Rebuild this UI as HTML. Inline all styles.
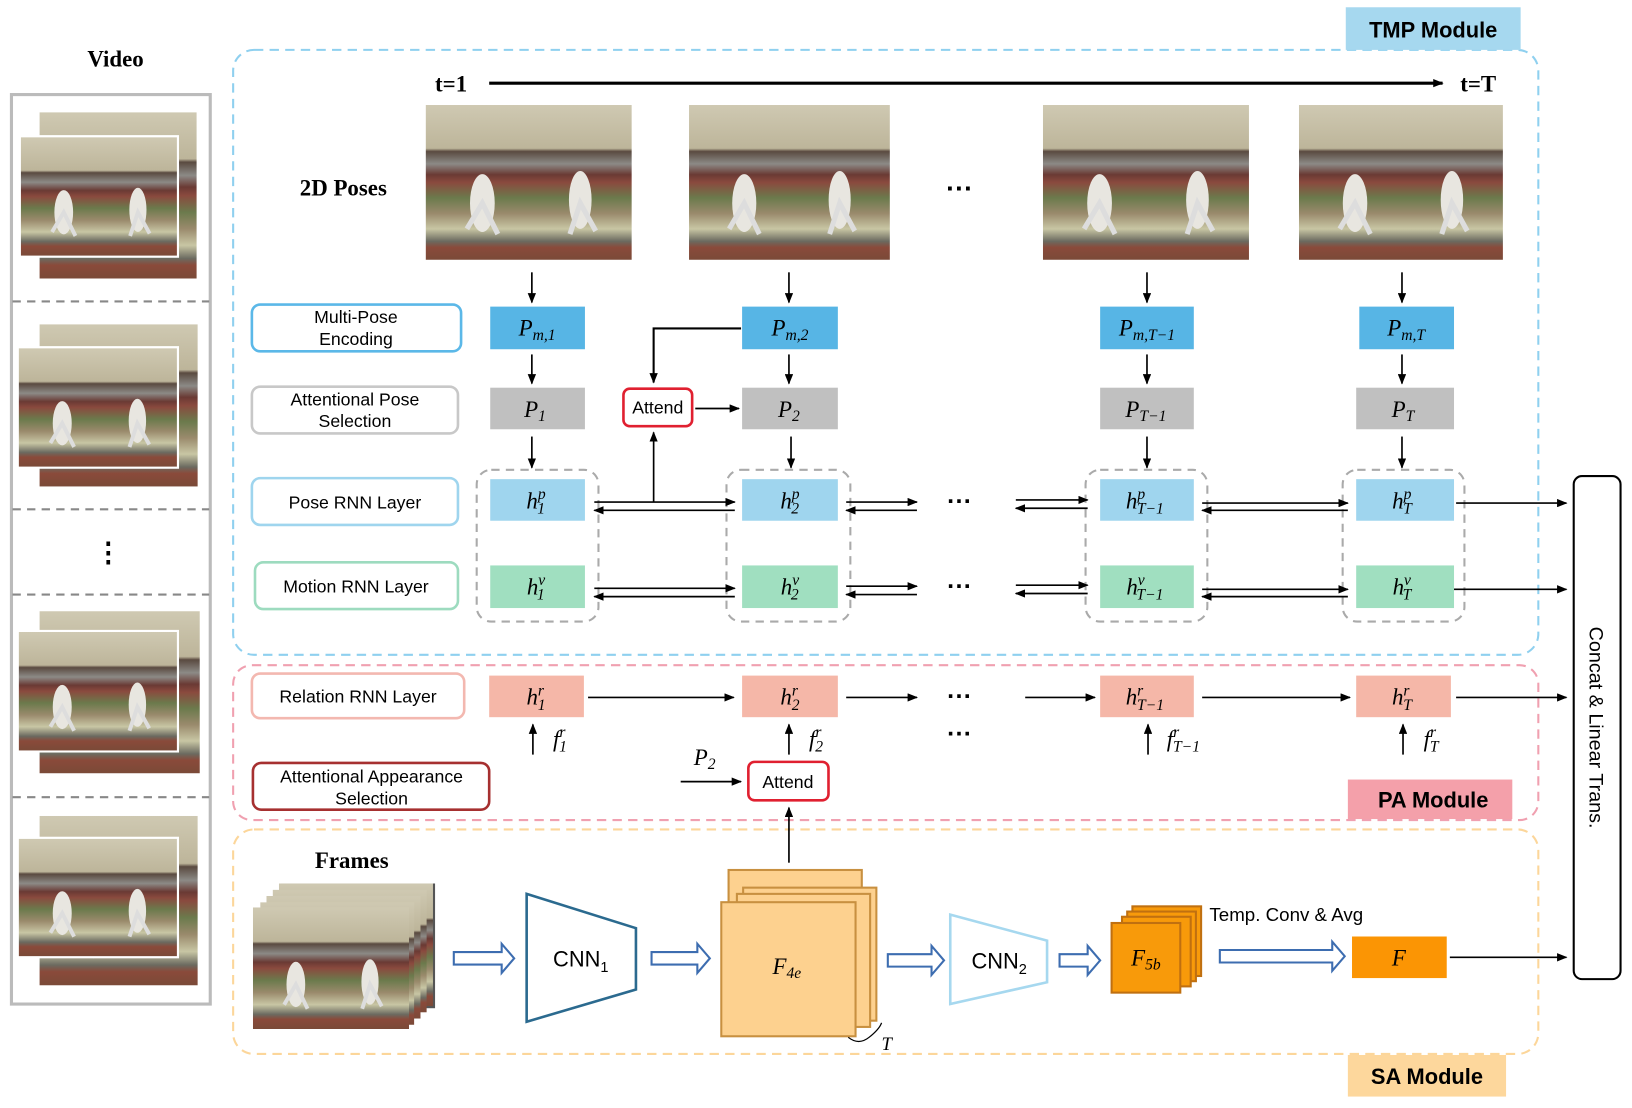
<!DOCTYPE html>
<html><head><meta charset="utf-8"><style>html,body{margin:0;padding:0;background:#fff;overflow:hidden}svg{display:block}</style></head><body>
<svg width="1632" height="1108" viewBox="0 0 1568 1066" preserveAspectRatio="none" xmlns="http://www.w3.org/2000/svg" font-family="Liberation Sans, sans-serif">
<defs>
<marker id="ah" markerWidth="10" markerHeight="8" refX="9" refY="4" orient="auto" markerUnits="userSpaceOnUse"><path d="M0,0 L10,4 L0,8 Z" fill="#000"/></marker>
<linearGradient id="floor" x1="0" y1="0" x2="0" y2="1">
<stop offset="0" stop-color="#cfc9b2"/><stop offset="0.28" stop-color="#bdb59a"/><stop offset="0.3" stop-color="#5a4a40"/><stop offset="0.38" stop-color="#8c8a86"/><stop offset="0.45" stop-color="#6a3a34"/><stop offset="0.5" stop-color="#8a4a3e"/><stop offset="0.6" stop-color="#6b7a4c"/><stop offset="0.7" stop-color="#9a8a6c"/><stop offset="0.8" stop-color="#c8c6a4"/><stop offset="0.88" stop-color="#6b6a60"/><stop offset="0.92" stop-color="#8a4a3a"/><stop offset="1" stop-color="#7a4a38"/></linearGradient>
<symbol id="ph" viewBox="0 0 200 150" preserveAspectRatio="none">
<rect width="200" height="150" fill="url(#floor)"/>
<ellipse cx="55" cy="95" rx="12" ry="28" fill="#e8e6e0"/><ellipse cx="150" cy="92" rx="11" ry="28" fill="#e8e6e0"/>
<path d="M40 120 L55 95 L70 125 M140 125 L150 95 L165 122" stroke="#ddd" stroke-width="5" fill="none"/>
</symbol>
</defs>

<text x="111" y="64" font-family="Liberation Serif, serif" font-weight="bold" font-size="22" text-anchor="middle">Video</text>
<rect x="11" y="91" width="191" height="875" fill="none" stroke="#bbb" stroke-width="3"/>
<g stroke="#888" stroke-width="2" stroke-dasharray="8,6"><line x1="12" y1="290" x2="201" y2="290"/><line x1="12" y1="490" x2="201" y2="490"/><line x1="12" y1="572" x2="201" y2="572"/><line x1="12" y1="767" x2="201" y2="767"/></g>
<use href="#ph" x="38" y="108" width="151" height="160"/><rect x="18" y="130" width="154" height="118" fill="#fff"/><use href="#ph" x="20" y="132" width="150" height="114"/>
<use href="#ph" x="38" y="312" width="152" height="156"/><rect x="16" y="333" width="156" height="118" fill="#fff"/><use href="#ph" x="18" y="335" width="152" height="114"/>
<text x="104" y="540" font-size="26" text-anchor="middle" font-weight="bold">⋮</text>
<use href="#ph" x="38" y="588" width="154" height="156"/><rect x="16" y="606" width="156" height="118" fill="#fff"/><use href="#ph" x="18" y="608" width="152" height="114"/>
<use href="#ph" x="38" y="785" width="152" height="163"/><rect x="16" y="805" width="156" height="117" fill="#fff"/><use href="#ph" x="18" y="807" width="152" height="113"/>

<rect x="224" y="48" width="1254" height="582" rx="20" fill="none" stroke="#8fd0ef" stroke-width="2" stroke-dasharray="9,6"/>
<rect x="224" y="640" width="1254" height="149" rx="18" fill="none" stroke="#f0a0b0" stroke-width="2" stroke-dasharray="9,6"/>
<rect x="224" y="798" width="1254" height="216" rx="20" fill="none" stroke="#fcd69a" stroke-width="2" stroke-dasharray="9,6"/>
<rect x="1293" y="7" width="168" height="41" fill="#a6d8ef"/><text x="1377" y="36" font-weight="bold" font-size="21" text-anchor="middle">TMP Module</text>
<rect x="1295" y="750" width="158" height="38" fill="#f4a0aa"/><text x="1377" y="777" font-weight="bold" font-size="21" text-anchor="middle">PA Module</text>
<rect x="1295" y="1015" width="152" height="40" fill="#fdd79c"/><text x="1371" y="1043" font-weight="bold" font-size="21" text-anchor="middle">SA Module</text>

<g font-family="Liberation Serif, serif" font-weight="bold" font-size="22"><text x="418" y="88">t=1</text><text x="1403" y="88">t=T</text><text x="288" y="188">2D Poses</text></g>
<line x1="470" y1="80" x2="1386" y2="80" stroke="#000" stroke-width="3" marker-end="url(#ah)"/>
<use href="#ph" x="409" y="101" width="198" height="149"/>
<use href="#ph" x="662" y="101" width="193" height="149"/>
<use href="#ph" x="1002" y="101" width="198" height="149"/>
<use href="#ph" x="1248" y="101" width="196" height="149"/>
<text x="922" y="190" font-size="26" font-weight="bold" text-anchor="middle">···</text>

<g font-size="17" text-anchor="middle" fill="#000">
<rect x="242" y="293" width="201" height="45" rx="8" fill="#fff" stroke="#5bb8e8" stroke-width="2.5"/><text x="342" y="311">Multi-Pose</text><text x="342" y="332">Encoding</text>
<rect x="242" y="372" width="198" height="45" rx="8" fill="#fff" stroke="#c8c8c8" stroke-width="2.5"/><text x="341" y="390">Attentional Pose</text><text x="341" y="411">Selection</text>
<rect x="242" y="460" width="198" height="45" rx="8" fill="#fff" stroke="#9fd5ee" stroke-width="2.5"/><text x="341" y="489">Pose RNN Layer</text>
<rect x="245" y="541" width="195" height="45" rx="8" fill="#fff" stroke="#9ddbbf" stroke-width="2.5"/><text x="342" y="570">Motion RNN Layer</text>
<rect x="242" y="648" width="204" height="43" rx="8" fill="#fff" stroke="#f3b8b0" stroke-width="2.5"/><text x="344" y="676">Relation RNN Layer</text>
<rect x="243" y="734" width="227" height="45" rx="8" fill="#fff" stroke="#a63030" stroke-width="2.5"/><text x="357" y="753">Attentional Appearance</text><text x="357" y="774">Selection</text>
</g>

<g fill="none" stroke="#aaa" stroke-width="2" stroke-dasharray="8,6">
<rect x="458" y="452" width="117" height="146" rx="14"/><rect x="698" y="452" width="119" height="146" rx="14"/><rect x="1043" y="452" width="117" height="146" rx="14"/><rect x="1290" y="452" width="117" height="146" rx="14"/>
</g>

<g>
<rect x="471" y="295" width="91" height="41" fill="#57b5e5"/><rect x="713" y="295" width="92" height="41" fill="#57b5e5"/><rect x="1057" y="295" width="90" height="41" fill="#57b5e5"/><rect x="1306" y="295" width="91" height="41" fill="#57b5e5"/>
<rect x="471" y="373" width="91" height="40" fill="#c0c0c0"/><rect x="713" y="373" width="92" height="40" fill="#c0c0c0"/><rect x="1057" y="373" width="90" height="40" fill="#c0c0c0"/><rect x="1303" y="373" width="94" height="40" fill="#c0c0c0"/>
<rect x="471" y="461" width="91" height="40" fill="#9fd5ee"/><rect x="713" y="461" width="92" height="40" fill="#9fd5ee"/><rect x="1057" y="461" width="90" height="40" fill="#9fd5ee"/><rect x="1303" y="461" width="94" height="40" fill="#9fd5ee"/>
<rect x="471" y="544" width="91" height="41" fill="#a0dfc0"/><rect x="713" y="544" width="92" height="41" fill="#a0dfc0"/><rect x="1057" y="544" width="90" height="41" fill="#a0dfc0"/><rect x="1303" y="544" width="94" height="41" fill="#a0dfc0"/>
<rect x="470" y="650" width="91" height="40" fill="#f5b7a8"/><rect x="713" y="650" width="92" height="40" fill="#f5b7a8"/><rect x="1057" y="650" width="90" height="40" fill="#f5b7a8"/><rect x="1303" y="650" width="91" height="40" fill="#f5b7a8"/>
</g>

<g font-family="Liberation Serif, serif" font-style="italic" font-size="22" text-anchor="middle">
<text x="516" y="323">P<tspan font-size="15" dy="4">m,1</tspan></text>
<text x="759" y="323">P<tspan font-size="15" dy="4">m,2</tspan></text>
<text x="1102" y="323">P<tspan font-size="15" dy="4">m,T−1</tspan></text>
<text x="1351" y="323">P<tspan font-size="15" dy="4">m,T</tspan></text>
<text x="514" y="401">P<tspan font-size="15" dy="4">1</tspan></text>
<text x="758" y="401">P<tspan font-size="15" dy="4">2</tspan></text>
<text x="1101" y="401">P<tspan font-size="15" dy="4">T−1</tspan></text>
<text x="1348" y="401">P<tspan font-size="15" dy="4">T</tspan></text>
<text x="515" y="489">h<tspan font-size="15" dy="-9">p</tspan><tspan font-size="15" dx="-8" dy="14">1</tspan></text>
<text x="759" y="489">h<tspan font-size="15" dy="-9">p</tspan><tspan font-size="15" dx="-8" dy="14">2</tspan></text>
<text x="1100" y="489">h<tspan font-size="15" dy="-9">p</tspan><tspan font-size="15" dx="-8" dy="14">T−1</tspan></text>
<text x="1347" y="489">h<tspan font-size="15" dy="-9">p</tspan><tspan font-size="15" dx="-8" dy="14">T</tspan></text>
<text x="515" y="572">h<tspan font-size="15" dy="-9">v</tspan><tspan font-size="15" dx="-8" dy="14">1</tspan></text>
<text x="759" y="572">h<tspan font-size="15" dy="-9">v</tspan><tspan font-size="15" dx="-8" dy="14">2</tspan></text>
<text x="1100" y="572">h<tspan font-size="15" dy="-9">v</tspan><tspan font-size="15" dx="-8" dy="14">T−1</tspan></text>
<text x="1347" y="572">h<tspan font-size="15" dy="-9">v</tspan><tspan font-size="15" dx="-8" dy="14">T</tspan></text>
<text x="515" y="678">h<tspan font-size="15" dy="-9">r</tspan><tspan font-size="15" dx="-6" dy="14">1</tspan></text>
<text x="759" y="678">h<tspan font-size="15" dy="-9">r</tspan><tspan font-size="15" dx="-6" dy="14">2</tspan></text>
<text x="1100" y="678">h<tspan font-size="15" dy="-9">r</tspan><tspan font-size="15" dx="-6" dy="14">T−1</tspan></text>
<text x="1347" y="678">h<tspan font-size="15" dy="-9">r</tspan><tspan font-size="15" dx="-6" dy="14">T</tspan></text>
<text x="538" y="718">f<tspan font-size="15" dy="-9">r</tspan><tspan font-size="15" dx="-6" dy="14">1</tspan></text>
<text x="784" y="718">f<tspan font-size="15" dy="-9">r</tspan><tspan font-size="15" dx="-6" dy="14">2</tspan></text>
<text x="1137" y="718">f<tspan font-size="15" dy="-9">r</tspan><tspan font-size="15" dx="-6" dy="14">T−1</tspan></text>
<text x="1375" y="718">f<tspan font-size="15" dy="-9">r</tspan><tspan font-size="15" dx="-6" dy="14">T</tspan></text>
<text x="677" y="736">P<tspan font-size="15" dy="4">2</tspan></text>
<text x="852" y="1010" font-size="18">T</text>
</g>

<g stroke="#000" stroke-width="1.6" fill="none" marker-end="url(#ah)">
<line x1="511" y1="262" x2="511" y2="291"/><line x1="758" y1="262" x2="758" y2="291"/><line x1="1102" y1="262" x2="1102" y2="291"/><line x1="1347" y1="262" x2="1347" y2="291"/>
<line x1="511" y1="341" x2="511" y2="369"/><line x1="758" y1="341" x2="758" y2="369"/><line x1="1102" y1="341" x2="1102" y2="369"/><line x1="1347" y1="341" x2="1347" y2="369"/>
<line x1="511" y1="420" x2="511" y2="450"/><line x1="760" y1="420" x2="760" y2="450"/><line x1="1102" y1="420" x2="1102" y2="450"/><line x1="1347" y1="420" x2="1347" y2="450"/>
<polyline points="712,316 628,316 628,368" stroke-width="2"/>
<line x1="668" y1="393" x2="710" y2="393"/>
<line x1="628" y1="483" x2="628" y2="416"/>
<line x1="571" y1="483" x2="706" y2="483"/><line x1="706" y1="491" x2="571" y2="491"/>
<line x1="813" y1="483" x2="881" y2="483"/><line x1="881" y1="491" x2="813" y2="491"/>
<line x1="976" y1="481" x2="1045" y2="481"/><line x1="1045" y1="489" x2="976" y2="489"/>
<line x1="1155" y1="484" x2="1295" y2="484"/><line x1="1295" y1="491" x2="1155" y2="491"/>
<line x1="1399" y1="484" x2="1505" y2="484"/>
<line x1="571" y1="566" x2="706" y2="566"/><line x1="706" y1="574" x2="571" y2="574"/>
<line x1="813" y1="564" x2="881" y2="564"/><line x1="881" y1="572" x2="813" y2="572"/>
<line x1="976" y1="563" x2="1045" y2="563"/><line x1="1045" y1="571" x2="976" y2="571"/>
<line x1="1155" y1="567" x2="1295" y2="567"/><line x1="1295" y1="574" x2="1155" y2="574"/>
<line x1="1397" y1="567" x2="1505" y2="567"/>
<line x1="565" y1="671" x2="705" y2="671"/><line x1="813" y1="671" x2="881" y2="671"/><line x1="985" y1="671" x2="1052" y2="671"/><line x1="1155" y1="671" x2="1297" y2="671"/><line x1="1399" y1="671" x2="1505" y2="671"/>
<line x1="512" y1="726" x2="512" y2="697"/><line x1="758" y1="726" x2="758" y2="697"/><line x1="1103" y1="726" x2="1103" y2="697"/><line x1="1348" y1="726" x2="1348" y2="697"/>
<line x1="654" y1="752" x2="712" y2="752"/>
<line x1="758" y1="830" x2="758" y2="777"/>
<line x1="1393" y1="921" x2="1505" y2="921"/>
</g>
<g font-size="24" font-weight="bold" text-anchor="middle"><text x="922" y="490">···</text><text x="922" y="572">···</text><text x="922" y="678">···</text><text x="922" y="714">···</text></g>

<rect x="599" y="374" width="66" height="36" rx="6" fill="#fff" stroke="#e02030" stroke-width="2.5"/><text x="632" y="398" font-size="17" text-anchor="middle">Attend</text>
<rect x="719" y="733" width="77" height="37" rx="6" fill="#fff" stroke="#e02030" stroke-width="2.5"/><text x="757" y="758" font-size="17" text-anchor="middle">Attend</text>

<rect x="1512" y="458" width="45" height="484" rx="8" fill="#fff" stroke="#000" stroke-width="2"/>
<text x="0" y="0" font-size="19" text-anchor="middle" transform="translate(1527,700) rotate(90)">Concat &amp; Linear Trans.</text>

<text x="338" y="835" font-family="Liberation Serif, serif" font-weight="bold" font-size="22" text-anchor="middle">Frames</text>
<g>
<rect x="270" y="850" width="148" height="120" fill="#555"/><use href="#ph" x="268" y="850" width="148" height="118"/>
<use href="#ph" x="262" y="856" width="148" height="118"/><use href="#ph" x="256" y="862" width="148" height="118"/>
<use href="#ph" x="250" y="868" width="148" height="118"/><use href="#ph" x="243" y="873" width="150" height="117"/>
</g>
<g fill="#fff" stroke="#3d6db0" stroke-width="2">
<path d="M436,916 L482,916 L482,908 L494,922 L482,936 L482,928 L436,928 Z"/>
<path d="M626,916 L670,916 L670,908 L682,922 L670,936 L670,928 L626,928 Z"/>
<path d="M853,918 L895,918 L895,910 L907,924 L895,938 L895,930 L853,930 Z"/>
<path d="M1018,918 L1045,918 L1045,910 L1057,924 L1045,938 L1045,930 L1018,930 Z"/>
<path d="M1172,914 L1280,914 L1280,906 L1292,920 L1280,934 L1280,926 L1172,926 Z"/>
</g>
<polygon points="506,860 611,893 611,952 506,983" fill="#fff" stroke="#2b6a8f" stroke-width="2.5"/>
<text x="558" y="930" font-size="21" text-anchor="middle">CNN<tspan font-size="14" dy="5">1</tspan></text>
<polygon points="913,880 1006,905 1006,945 913,966" fill="#fff" stroke="#a6d8ef" stroke-width="2.5"/>
<text x="960" y="932" font-size="21" text-anchor="middle">CNN<tspan font-size="14" dy="5">2</tspan></text>
<g fill="#fdd18f" stroke="#c89040" stroke-width="2">
<rect x="700" y="837" width="128" height="126"/><rect x="714" y="854" width="128" height="128"/><rect x="708" y="860" width="128" height="128"/><rect x="693" y="868" width="129" height="129"/>
</g>
<path d="M815,998 q10,8 20,0 q10,-8 12,-14" fill="none" stroke="#000" stroke-width="1.2"/>
<g fill="#f89a0a" stroke="#c07010" stroke-width="2">
<rect x="1088" y="872" width="66" height="67"/><rect x="1083" y="877" width="66" height="67"/><rect x="1078" y="882" width="66" height="67"/><rect x="1068" y="888" width="66" height="67"/>
</g>
<g font-family="Liberation Serif, serif" font-style="italic" font-size="22" text-anchor="middle">
<text x="756" y="937">F<tspan font-size="15" dy="4">4e</tspan></text>
<text x="1101" y="929">F<tspan font-size="15" dy="4">5b</tspan></text>
</g>
<text x="1162" y="886" font-size="18">Temp. Conv &amp; Avg</text>
<rect x="1299" y="901" width="91" height="40" fill="#fb9504"/>
<text x="1344" y="929" font-family="Liberation Serif, serif" font-style="italic" font-size="22" text-anchor="middle">F</text>
</svg>
</body></html>
